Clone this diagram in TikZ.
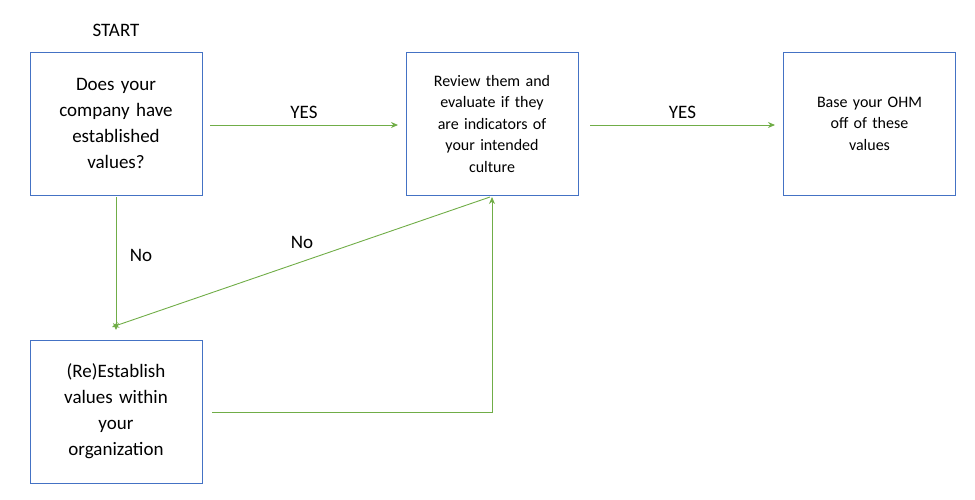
\documentclass[tikz,border=0pt]{standalone}
\usepackage{fontspec}
\setmainfont{Carlito}
\usetikzlibrary{arrows.meta}
\definecolor{bx}{RGB}{68,114,196}
\definecolor{gr}{RGB}{112,173,71}
\tikzset{
 box/.style={draw=bx,line width=1pt,minimum width=172pt,minimum height=143pt,align=center,inner sep=4pt},
 big/.style={font=\fontsize{19}{26}\selectfont,text width=130pt},
 small/.style={font=\fontsize{16}{21.5}\selectfont,text width=150pt},
 conn/.style={draw=gr,line width=0.9pt,-{Stealth[length=7pt,width=6pt]}},
 lbl/.style={font=\fontsize{19}{22}\selectfont}
}
\begin{document}
\begin{tikzpicture}[x=1pt,y=-1pt]
\useasboundingbox (0,0) rectangle (975,499);
\node[box,big] (a) at (116,123.5) {Does your\\company have\\established\\values?};
\node[box,small] (b) at (492,123.5) {Review them and\\evaluate if they\\are indicators of\\your intended\\culture};
\node[box,small] (c) at (869.5,123.5) {Base your OHM\\off of these\\values};
\node[box,big] (d) at (116,411.5) {(Re)Establish\\values within\\your\\organization};
\node[lbl] (s) at (116,30) {START};
\coordinate (a1) at (210,125);
\coordinate (b1) at (398,125);
\coordinate (b2) at (590,125);
\coordinate (c1) at (775,125);
\coordinate (a2) at (116,197);
\coordinate (d1) at (116,330);
\coordinate (b3) at (490,197);
\coordinate (d2) at (112,327);
\coordinate (d3) at (212,412);
\coordinate (m) at (492,412);
\coordinate (b4) at (492,197);
\draw[conn] (a1) -- node[lbl,above=3pt]{YES} (b1);
\draw[conn] (b2) -- node[lbl,above=3pt]{YES} (c1);
\draw[conn] (a2) -- (d1);
\node[lbl] (n1) at (141,255) {No};
\draw[conn] (b3) -- (d2);
\node[lbl] (n2) at (302,242) {No};
\draw[conn] (d3) -- (m) -- (b4);
\end{tikzpicture}
\end{document}
